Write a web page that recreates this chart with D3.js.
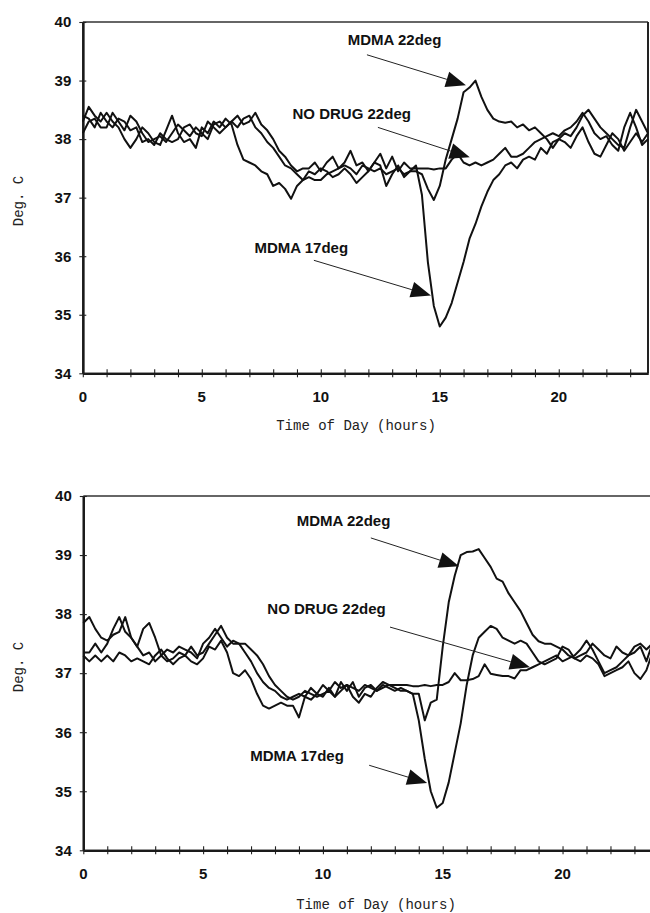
<!DOCTYPE html>
<html>
<head>
<meta charset="utf-8">
<script src="https://cdn.jsdelivr.net/npm/d3@7"></script>
<style>
    html, body { margin: 0; padding: 0; background: #fff; }
    svg { display: block; }
    .tickLabel { font-family: "Liberation Sans", Arial, sans-serif; font-weight: bold; font-size: 15px; fill: #111; }
    .axisTitle { font-family: "Liberation Mono", "Courier New", monospace; font-size: 14px; fill: #222; }
    .note { font-family: "Liberation Sans", Arial, sans-serif; font-weight: bold; font-size: 15px; fill: #111; }
</style>
</head>
<body>
<svg id="chart"></svg>
<script>
// time grid: readings every 15 minutes
var hours = d3.range(0, 24, 0.25);
var xLabels = [0, 5, 10, 15, 20];
var yTicks = [34, 35, 36, 37, 38, 39, 40];
var seriesNames = ["MDMA 22deg", "MDMA 17deg", "NO DRUG 22deg"];

// upper panel
var topMdma22 = [
    38.3, 38.55, 38.4, 38.3, 38.45, 38.3, 38.2, 38.0, 37.85, 38.0, 38.2, 38.1,
    37.95, 37.9, 38.15, 38.4, 38.1, 37.95, 38.0, 37.85, 38.2, 38.1, 38.3, 38.2,
    38.35, 38.25, 37.9, 37.65, 37.6, 37.55, 37.45, 37.4, 37.2, 37.25, 37.15, 36.98,
    37.2, 37.3, 37.35, 37.3, 37.3, 37.4, 37.45, 37.5, 37.55, 37.5, 37.4, 37.55,
    37.5, 37.45, 37.5, 37.4, 37.45, 37.5, 37.4, 37.45, 37.45, 37.4, 37.15, 36.96,
    37.2, 37.65, 38.0, 38.35, 38.8, 38.88, 39.0, 38.72, 38.5, 38.35, 38.3, 38.28,
    38.3, 38.2, 38.25, 38.15, 38.2, 38.1, 38.0, 37.85, 38.0, 38.1, 38.05, 38.2,
    38.4, 38.5, 38.35, 38.2, 38.1, 38.0, 37.9, 37.85, 38.2, 38.5, 38.3, 38.1
];
var topMdma17 = [
    38.1, 38.3, 38.35, 38.2, 38.2, 38.45, 38.3, 38.15, 38.4, 38.3, 38.1, 37.95,
    38.0, 38.05, 37.95, 38.1, 38.25, 38.15, 38.05, 38.2, 38.1, 38.0, 38.25, 38.3,
    38.2, 38.3, 38.2, 38.35, 38.4, 38.2, 38.1, 37.95, 37.85, 37.7, 37.55, 37.5,
    37.4, 37.3, 37.45, 37.4, 37.5, 37.45, 37.35, 37.4, 37.5, 37.4, 37.25, 37.35,
    37.45, 37.6, 37.55, 37.2, 37.4, 37.55, 37.35, 37.45, 37.55, 37.05, 35.9, 35.15,
    34.8, 34.95, 35.2, 35.55, 35.9, 36.3, 36.55, 36.85, 37.1, 37.3, 37.4, 37.55,
    37.6, 37.5, 37.65, 37.7, 37.65, 37.85, 37.75, 37.95, 38.0, 37.95, 37.85, 38.05,
    38.2, 37.95, 37.75, 37.7, 37.9, 38.1, 38.0, 37.8, 37.95, 38.1, 37.95, 38.1
];
var topNoDrug = [
    38.4, 38.35, 38.2, 38.45, 38.3, 38.2, 38.35, 38.3, 38.15, 38.2, 37.95, 38.0,
    37.9, 38.1, 38.0, 37.95, 38.0, 38.2, 38.25, 38.1, 38.05, 38.3, 38.2, 38.1,
    38.2, 38.3, 38.4, 38.25, 38.3, 38.45, 38.25, 38.15, 38.0, 37.8, 37.7, 37.55,
    37.45, 37.5, 37.5, 37.6, 37.45, 37.6, 37.7, 37.5, 37.6, 37.8, 37.55, 37.6,
    37.45, 37.6, 37.75, 37.5, 37.7, 37.45, 37.6, 37.5, 37.5, 37.5, 37.5, 37.48,
    37.5, 37.5, 37.65, 37.75, 37.6, 37.55, 37.6, 37.55, 37.6, 37.65, 37.75, 37.85,
    37.7, 37.7, 37.75, 37.85, 37.95, 38.0, 38.05, 38.1, 38.05, 38.15, 38.2, 38.3,
    38.45, 38.3, 38.1, 38.0, 38.05, 37.9, 37.8, 38.2, 38.45, 38.2, 37.9, 38.0
];

// lower panel
var lowMdma22 = [
    37.85, 37.95, 37.75, 37.6, 37.55, 37.65, 37.7, 37.95, 37.6, 37.45, 37.3, 37.35,
    37.2, 37.3, 37.4, 37.35, 37.45, 37.4, 37.35, 37.25, 37.5, 37.6, 37.75, 37.6,
    37.45, 37.55, 37.5, 37.35, 37.2, 37.0, 36.85, 36.75, 36.7, 36.6, 36.55, 36.6,
    36.65, 36.6, 36.75, 36.65, 36.8, 36.7, 36.85, 36.75, 36.8, 36.75, 36.7, 36.8,
    36.75, 36.7, 36.8, 36.75, 36.7, 36.75, 36.7, 36.65, 36.65, 36.2, 36.5, 36.55,
    37.45, 38.2, 38.65, 39.0, 39.05, 39.06, 39.1, 38.95, 38.8, 38.6, 38.55, 38.35,
    38.2, 38.05, 37.85, 37.65, 37.54, 37.5, 37.5, 37.45, 37.4, 37.3, 37.25, 37.3,
    37.35, 37.5, 37.4, 37.3, 37.25, 37.45, 37.35, 37.3, 37.45, 37.5, 37.4, 37.5
];
var lowMdma17 = [
    37.35, 37.35, 37.5, 37.35, 37.5, 37.75, 37.95, 37.7, 37.6, 37.45, 37.75, 37.85,
    37.6, 37.3, 37.2, 37.25, 37.35, 37.3, 37.45, 37.3, 37.35, 37.5, 37.65, 37.8,
    37.6, 37.5, 37.5, 37.5, 37.4, 37.3, 37.15, 36.95, 36.8, 36.7, 36.6, 36.55,
    36.6, 36.7, 36.65, 36.6, 36.65, 36.7, 36.6, 36.85, 36.7, 36.85, 36.6, 36.75,
    36.8, 36.7, 36.75, 36.8, 36.75, 36.7, 36.7, 36.65, 36.2, 35.55, 35.0, 34.72,
    34.8, 35.15, 35.65, 36.15, 36.8, 37.3, 37.6, 37.7, 37.8, 37.75, 37.6, 37.55,
    37.5, 37.55, 37.5, 37.35, 37.2, 37.15, 37.2, 37.25, 37.45, 37.4, 37.25, 37.2,
    37.3, 37.25, 37.15, 36.95, 37.0, 37.05, 37.1, 37.2, 37.0, 36.9, 37.05, 37.35
];
var lowNoDrug = [
    37.3, 37.2, 37.3, 37.2, 37.3, 37.2, 37.35, 37.3, 37.2, 37.25, 37.2, 37.15,
    37.3, 37.4, 37.25, 37.15, 37.25, 37.3, 37.2, 37.15, 37.25, 37.45, 37.4, 37.55,
    37.35, 37.0, 36.95, 37.05, 36.9, 36.65, 36.45, 36.4, 36.45, 36.5, 36.45, 36.45,
    36.25, 36.6, 36.55, 36.65, 36.6, 36.75, 36.6, 36.7, 36.8, 36.6, 36.5, 36.65,
    36.6, 36.75, 36.85, 36.8, 36.8, 36.8, 36.8, 36.78, 36.78, 36.8, 36.78, 36.8,
    36.8, 36.85, 37.0, 36.88, 36.88, 36.9, 36.95, 37.15, 36.99, 36.97, 36.95, 36.95,
    36.91, 37.05, 37.05, 37.1, 37.15, 37.2, 37.25, 37.3, 37.2, 37.25, 37.3, 37.4,
    37.55, 37.4, 37.2, 37.0, 37.05, 37.1, 37.2, 37.3, 37.35, 37.45, 37.2, 37.5
];

// annotation anchors in data units: label centre/baseline, arrow start, arrow tip
var topNotes = [
    { text: "MDMA 22deg", lx: 13.1, ly: 39.6, x1: 11.94, y1: 39.44, x2: 16.1, y2: 38.92 },
    { text: "NO DRUG 22deg", lx: 11.3, ly: 38.35, x1: 12.4, y1: 38.2, x2: 16.26, y2: 37.69 },
    { text: "MDMA 17deg", lx: 9.18, ly: 36.06, x1: 9.71, y1: 35.93, x2: 14.63, y2: 35.33 }
];
var lowNotes = [
    { text: "MDMA 22deg", lx: 10.86, ly: 39.5, x1: 12.0, y1: 39.29, x2: 15.68, y2: 38.81 },
    { text: "NO DRUG 22deg", lx: 10.15, ly: 38.01, x1: 12.8, y1: 37.78, x2: 18.64, y2: 37.1 },
    { text: "MDMA 17deg", lx: 8.92, ly: 35.52, x1: 11.93, y1: 35.44, x2: 14.35, y2: 35.14 }
];

var svgW = 650, svgH = 913;
var svg = d3.select("#chart").attr("width", svgW).attr("height", svgH);

var drawPanel = function (cfg) {
    var xScale = d3.scaleLinear().domain([0, 23.75]).range([cfg.left, cfg.right]);
    var yScale = d3.scaleLinear().domain([34, 40]).range([cfg.bottom, cfg.top]);
    var g = svg.append("g");

    // frame
    g.append("line")
        .attr("x1", cfg.left).attr("x2", cfg.right)
        .attr("y1", cfg.top).attr("y2", cfg.top)
        .attr("stroke", "#333").attr("stroke-width", 1.6);
    if (cfg.rightBorder) {
        g.append("line")
            .attr("x1", cfg.right).attr("x2", cfg.right)
            .attr("y1", cfg.top).attr("y2", cfg.bottom)
            .attr("stroke", "#222").attr("stroke-width", 2);
    }

    // ticks crossing both axes
    var hourTicks = d3.range(0, 24);
    var xTickG = g.append("g");
    [d3.axisBottom(xScale), d3.axisTop(xScale)].forEach(function (ax) {
        ax.tickValues(hourTicks).tickSizeInner(4).tickSizeOuter(0).tickFormat("");
        xTickG.append("g").attr("transform", `translate(0,${cfg.bottom})`).call(ax);
    });
    var yTickG = g.append("g");
    [d3.axisLeft(yScale), d3.axisRight(yScale)].forEach(function (ax) {
        ax.tickValues(yTicks).tickSizeInner(3.5).tickSizeOuter(0).tickFormat("");
        yTickG.append("g").attr("transform", `translate(${cfg.left},0)`).call(ax);
    });
    g.selectAll(".domain").attr("stroke", "#1a1a1a").attr("stroke-width", 2.2);
    g.selectAll(".tick line").attr("stroke", "#222").attr("stroke-width", 1.1);

    // tick labels
    g.selectAll("text.xLabel")
        .data(xLabels)
        .enter().append("text")
        .attr("class", "tickLabel")
        .attr("x", function (d) { return xScale(d); })
        .attr("y", cfg.bottom + 28.5)
        .attr("text-anchor", "middle")
        .text(function (d) { return d; });
    g.selectAll("text.yLabel")
        .data(yTicks)
        .enter().append("text")
        .attr("class", "tickLabel")
        .attr("x", cfg.left - 11.5)
        .attr("y", function (d) { return yScale(d) + 5.3; })
        .attr("text-anchor", "end")
        .text(function (d) { return d; });

    // axis titles
    g.append("text")
        .attr("class", "axisTitle")
        .attr("transform", `translate(${cfg.yTitleX},${cfg.yTitleY}) rotate(-90)`)
        .attr("text-anchor", "middle")
        .text("Deg. C");
    g.append("text")
        .attr("class", "axisTitle")
        .attr("x", cfg.xTitleX)
        .attr("y", cfg.xTitleY)
        .attr("text-anchor", "middle")
        .text("Time of Day (hours)");

    // data lines
    var line = d3.line()
        .x(function (d, i) { return xScale(hours[i]); })
        .y(function (d) { return yScale(d); });
    g.selectAll("path.series")
        .data(cfg.series)
        .enter().append("path")
        .attr("class", "series")
        .attr("d", line)
        .attr("fill", "none")
        .attr("stroke", "#111")
        .attr("stroke-width", 2)
        .attr("stroke-linejoin", "round");

    // annotations with filled arrow heads
    var noteG = g.selectAll("g.note")
        .data(cfg.notes)
        .enter().append("g");
    noteG.append("text")
        .attr("class", "note")
        .attr("x", function (d) { return xScale(d.lx); })
        .attr("y", function (d) { return yScale(d.ly); })
        .attr("text-anchor", "middle")
        .text(function (d) { return d.text; });
    var headLen = 20, headHalf = 8;
    noteG.each(function (d) {
        var sx = xScale(d.x1), sy = yScale(d.y1), tx = xScale(d.x2), ty = yScale(d.y2);
        var dx = tx - sx, dy = ty - sy, len = Math.sqrt(dx * dx + dy * dy);
        var ux = dx / len, uy = dy / len;
        var bx = tx - ux * headLen, by = ty - uy * headLen;
        d3.select(this).append("line")
            .attr("x1", sx).attr("y1", sy).attr("x2", bx).attr("y2", by)
            .attr("stroke", "#222").attr("stroke-width", 1);
        d3.select(this).append("path")
            .attr("d", `M${tx},${ty}L${bx - uy * headHalf},${by + ux * headHalf}L${bx + uy * headHalf},${by - ux * headHalf}Z`)
            .attr("fill", "#111");
    });
};

drawPanel({
    left: 82.8, right: 648, top: 22, bottom: 373.3, rightBorder: true,
    yTitleX: 23, yTitleY: 201, xTitleX: 356, xTitleY: 430,
    series: [topMdma22, topMdma17, topNoDrug], notes: topNotes
});
drawPanel({
    left: 83.3, right: 652.4, top: 496, bottom: 850.3, rightBorder: false,
    yTitleX: 23, yTitleY: 667, xTitleX: 376, xTitleY: 909,
    series: [lowMdma22, lowMdma17, lowNoDrug], notes: lowNotes
});
</script>
</body>
</html>
